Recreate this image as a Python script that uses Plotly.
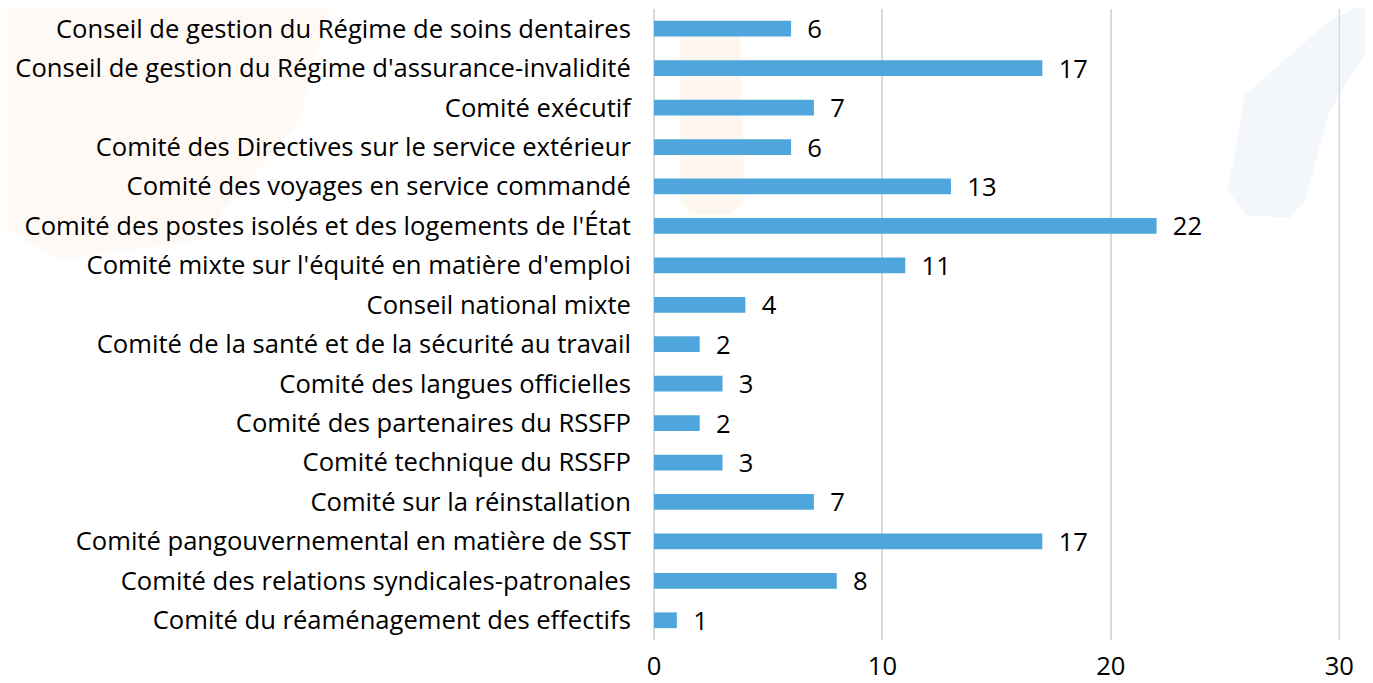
import plotly.graph_objects as go

categories = [
    "Conseil de gestion du Régime de soins dentaires",
    "Conseil de gestion du Régime d'assurance-invalidité",
    "Comité exécutif",
    "Comité des Directives sur le service extérieur",
    "Comité des voyages en service commandé",
    "Comité des postes isolés et des logements de l'État",
    "Comité mixte sur l'équité en matière d'emploi",
    "Conseil national mixte",
    "Comité de la santé et de la sécurité au travail",
    "Comité des langues officielles",
    "Comité des partenaires du RSSFP",
    "Comité technique du RSSFP",
    "Comité sur la réinstallation",
    "Comité pangouvernemental en matière de SST",
    "Comité des relations syndicales-patronales",
    "Comité du réaménagement des effectifs",
]
values = [6, 17, 7, 6, 13, 22, 11, 4, 2, 3, 2, 3, 7, 17, 8, 1]
x_ticks = [0, 10, 20, 30]

FONT = "Open Sans"
FS = 25.6
GRID = "#D9D9D9"
W, H = 1365, 675
ML, MR, MT, MB = 646, 33, 1, 43
PW, PH = W - ML - MR, H - MT - MB


def px(X):  # page pixel -> paper x
    return (X - 8 - ML) / PW


def py(Y):  # page pixel -> paper y
    return 1 - (Y - 8 - MT) / PH


def path(pts):
    return "M " + " L ".join(f"{px(a):.4f},{py(b):.4f}" for a, b in pts) + " Z"


fig = go.Figure(
    go.Bar(
        y=categories,
        x=values,
        orientation="h",
        marker=dict(color="#4FA6DC", line=dict(width=0)),
        text=["  " + str(v) for v in values],
        textposition="outside",
        constraintext="none",
        textfont=dict(family=FONT, size=FS, color="#000000"),
        cliponaxis=False,
        width=0.4,
    )
)

# faint decorative watermark shapes in the background
shapes = [
    dict(type="path", xref="paper", yref="paper", layer="below",
         path=path([(1245, 215), (1228, 190), (1245, 95), (1330, 20), (1373, 0),
                    (1373, 40), (1330, 110), (1305, 200), (1290, 218)]),
         fillcolor="#E9EFF5", line=dict(width=0), opacity=0.55),
    dict(type="path", xref="paper", yref="paper", layer="below",
         path=path([(680, 30), (740, 30), (745, 200), (730, 215), (690, 215), (680, 200)]),
         fillcolor="#FBEBD9", line=dict(width=0), opacity=0.4),
    dict(type="path", xref="paper", yref="paper", layer="below",
         path=path([(8, 0), (330, 0), (300, 120), (200, 240), (60, 260), (8, 230)]),
         fillcolor="#FCF1E6", line=dict(width=0), opacity=0.4),
]
# gridline at the far end of the axis (plotly omits it at the edge)
shapes.append(dict(type="line", xref="x", yref="paper", layer="below",
                   x0=x_ticks[-1], x1=x_ticks[-1], y0=0, y1=1,
                   line=dict(color=GRID, width=1.5)))

fig.update_layout(
    width=W,
    height=H,
    margin=dict(l=ML, r=MR, t=MT, b=MB, autoexpand=False),
    paper_bgcolor="#FFFFFF",
    plot_bgcolor="rgba(0,0,0,0)",
    showlegend=False,
    shapes=shapes,
    font=dict(family=FONT, size=FS, color="#000000"),
    xaxis=dict(
        range=[0, 30.03],
        tickvals=x_ticks,
        showgrid=True,
        gridcolor=GRID,
        gridwidth=1.5,
        zeroline=True,
        zerolinecolor=GRID,
        zerolinewidth=1.5,
        showline=False,
        ticks="outside",
        ticklen=3,
        tickcolor="rgba(0,0,0,0)",
        tickfont=dict(family=FONT, size=FS, color="#000000"),
        fixedrange=True,
        automargin=False,
    ),
    yaxis=dict(
        categoryorder="array",
        categoryarray=categories[::-1],
        showgrid=False,
        ticks="outside",
        ticklen=17,
        tickcolor="rgba(0,0,0,0)",
        tickfont=dict(family=FONT, size=FS, color="#000000"),
        fixedrange=True,
        automargin=False,
    ),
)

fig.write_html("out.html")
